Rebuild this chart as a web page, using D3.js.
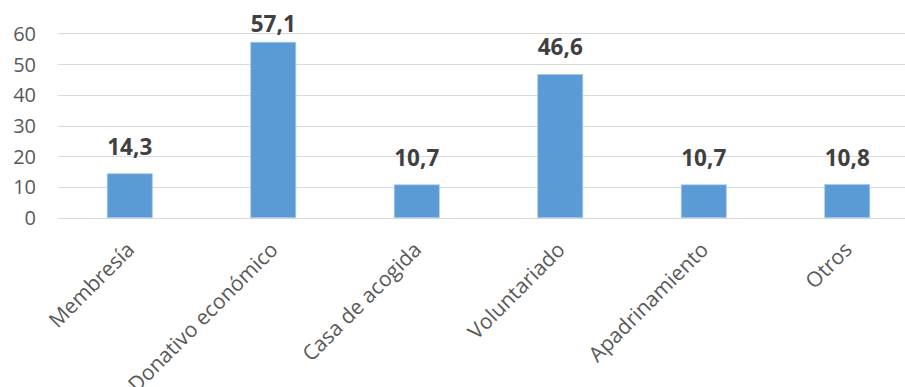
<!DOCTYPE html>
<html>
<head>
<meta charset="utf-8">
<script src="https://cdn.jsdelivr.net/npm/d3@7"></script>
<style>
  html, body { margin: 0; padding: 0; background: #fff; }
  svg { display: block; }
</style>
</head>
<body>
<svg id="chart" width="905" height="387"></svg>
<script>
const categories = ["Membresía", "Donativo económico", "Casa de acogida", "Voluntariado", "Apadrinamiento", "Otros"];
const values = [14.3, 57.1, 10.7, 46.6, 10.7, 10.8];
const valueLabels = ["14,3", "57,1", "10,7", "46,6", "10,7", "10,8"];
const yTicks = [0, 10, 20, 30, 40, 50, 60];

const svg = d3.select("#chart");
const font = "'Open Sans', 'Liberation Sans', sans-serif";

const x = d3.scaleBand().domain(categories).range([58, 919]).paddingInner(0.686).paddingOuter(0.343);
const y = d3.scaleLinear().domain([0, 60]).range([217.7, 33.3]);

// gridlines
svg.append("g").selectAll("line").data(yTicks).join("line")
  .attr("x1", 58).attr("x2", 919)
  .attr("y1", d => Math.round(y(d)) + 0.5).attr("y2", d => Math.round(y(d)) + 0.5)
  .attr("stroke", "#d9d9d9").attr("stroke-width", 1.2);

// y axis labels
const yAxis = d3.axisLeft(y).tickValues(yTicks).tickSize(0).tickPadding(0).tickFormat(d3.format("d"));
const gy = svg.append("g").attr("transform", "translate(36,0)").call(yAxis);
gy.select(".domain").remove();
gy.selectAll("text").attr("font-family", font).attr("font-size", 20).attr("fill", "#595959")
  .attr("dy", "0.35em").attr("x", 0);

// bars
svg.append("g").selectAll("rect").data(values).join("rect")
  .attr("x", (d, i) => x(categories[i]))
  .attr("width", x.bandwidth())
  .attr("y", d => y(d))
  .attr("height", d => y(0) - y(d))
  .attr("fill", "#5b9bd5")
  .attr("stroke", "#a9c9ec").attr("stroke-width", 0.8);

// data labels
svg.append("g").selectAll("text").data(values).join("text")
  .attr("x", (d, i) => x(categories[i]) + x.bandwidth() / 2)
  .attr("y", d => Math.max(y(d) - 19, 32))
  .attr("text-anchor", "middle")
  .attr("font-family", font).attr("font-weight", "bold").attr("font-size", 22.5)
  .attr("fill", "#404040")
  .text((d, i) => valueLabels[i]);

// x axis labels
const xAxis = d3.axisBottom(x).tickSize(0).tickPadding(0);
const gx = svg.append("g").attr("transform", "translate(0,251)").call(xAxis);
gx.select(".domain").remove();
gx.selectAll("text")
  .attr("font-family", font).attr("font-size", 21).attr("fill", "#595959")
  .attr("text-anchor", "end").attr("dy", 0).attr("y", 0).attr("x", 0)
  .attr("transform", "translate(6,0) rotate(-45)");
</script>
</body>
</html>
